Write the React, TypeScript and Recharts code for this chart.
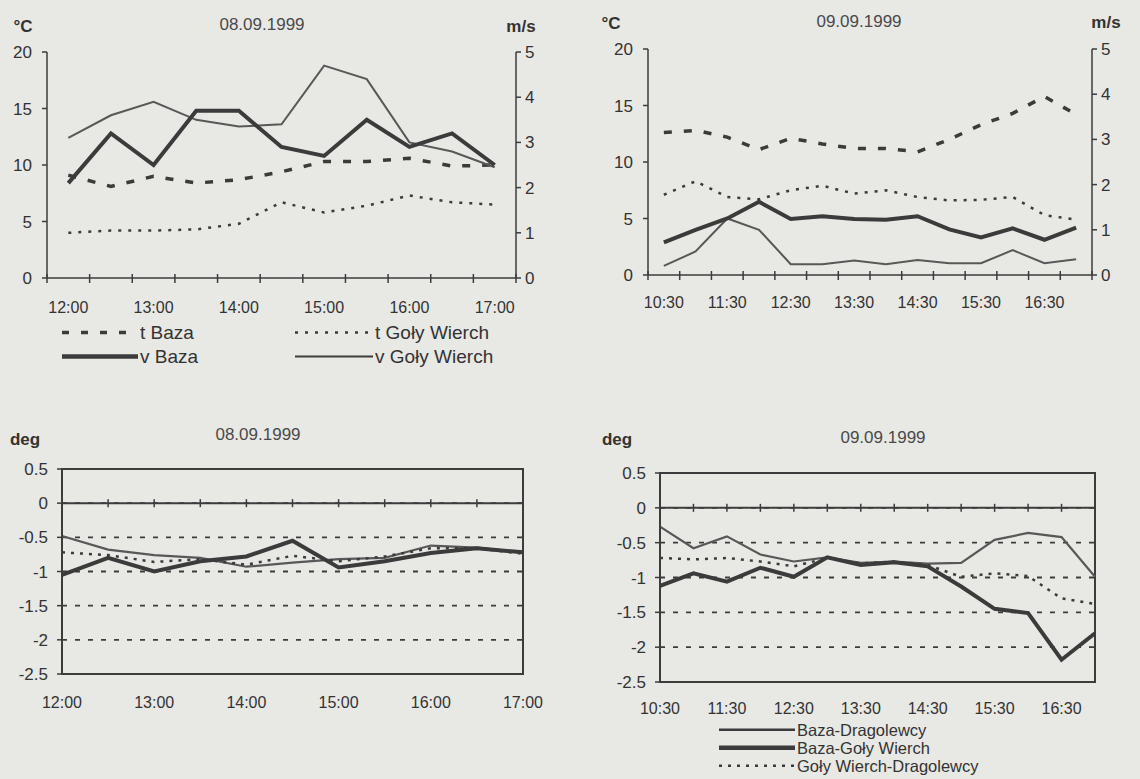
import React from 'react';
import { LineChart, Line, XAxis, YAxis, CartesianGrid, ReferenceLine, ReferenceArea } from 'recharts';

// time axes
const TIMES_0809 = ['12:00', '12:30', '13:00', '13:30', '14:00', '14:30', '15:00', '15:30', '16:00', '16:30', '17:00'];
const TIMES_0909 = ['10:30', '11:00', '11:30', '12:00', '12:30', '13:00', '13:30', '14:00', '14:30', '15:00', '15:30', '16:00', '16:30', '17:00'];

// temperature (°C) and wind (m/s), 08.09.1999
const T_BAZA_0809 = [9.1, 8.1, 9.0, 8.4, 8.7, 9.4, 10.3, 10.3, 10.6, 9.9, 10.0];
const T_GW_0809 = [4.0, 4.2, 4.2, 4.3, 4.8, 6.7, 5.8, 6.4, 7.3, 6.7, 6.5];
const V_BAZA_0809 = [2.1, 3.2, 2.5, 3.7, 3.7, 2.9, 2.7, 3.5, 2.9, 3.2, 2.5];
const V_GW_0809 = [3.1, 3.6, 3.9, 3.5, 3.35, 3.4, 4.7, 4.4, 3.0, 2.8, 2.45];

// temperature (°C) and wind (m/s), 09.09.1999
const T_BAZA_0909 = [12.6, 12.8, 12.2, 11.1, 12.1, 11.6, 11.2, 11.2, 10.9, 12.0, 13.3, 14.3, 15.8, 14.2];
const T_GW_0909 = [7.1, 8.3, 6.9, 6.7, 7.5, 7.9, 7.2, 7.5, 6.9, 6.6, 6.65, 6.9, 5.3, 4.9];
const V_BAZA_0909 = [0.72, 1.0, 1.25, 1.62, 1.24, 1.3, 1.24, 1.22, 1.3, 1.01, 0.83, 1.03, 0.78, 1.05];
const V_GW_0909 = [0.2, 0.52, 1.25, 1.0, 0.24, 0.24, 0.32, 0.24, 0.33, 0.26, 0.26, 0.55, 0.26, 0.35];

// gradients (deg), 08.09.1999
const BD_0809 = [-0.48, -0.68, -0.76, -0.8, -0.93, -0.87, -0.82, -0.8, -0.62, -0.65, -0.72];
const BG_0809 = [-1.05, -0.8, -1.0, -0.85, -0.78, -0.55, -0.94, -0.85, -0.73, -0.66, -0.72];
const GD_0809 = [-0.72, -0.76, -0.86, -0.82, -0.9, -0.77, -0.85, -0.78, -0.66, -0.66, -0.74];

// gradients (deg), 09.09.1999
const BD_0909 = [-0.27, -0.58, -0.41, -0.67, -0.77, -0.71, -0.79, -0.77, -0.8, -0.79, -0.46, -0.36, -0.42, -0.99];
const BG_0909 = [-1.12, -0.94, -1.06, -0.86, -0.99, -0.71, -0.82, -0.78, -0.84, -1.13, -1.45, -1.51, -2.18, -1.8];
const GD_0909 = [-0.72, -0.74, -0.72, -0.77, -0.84, -0.72, -0.8, -0.77, -0.82, -0.99, -0.94, -0.98, -1.3, -1.38];

const T_TICKS = [0, 5, 10, 15, 20];
const V_TICKS = [0, 1, 2, 3, 4, 5];
const DEG_TICKS = [0.5, 0, -0.5, -1, -1.5, -2, -2.5];

const FONT = '"Liberation Sans", Arial, sans-serif';
const BG = '#e8e8e5';
const INK = '#333333';
const AXIS = '#3c3c3c';
const THICK = '#3b3b3b';
const THIN = '#585858';

const weatherRows = (times: string[], tb: number[], tg: number[], vb: number[], vg: number[]) =>
  times.map((t, i) => ({ time: t, tBaza: tb[i], tGW: tg[i], vBaza: vb[i], vGW: vg[i] }));

const gradRows = (times: string[], bd: number[], bg: number[], gd: number[]) =>
  times.map((t, i) => ({ time: t, bd: bd[i], bg: bg[i], gd: gd[i] }));

const data0809 = weatherRows(TIMES_0809, T_BAZA_0809, T_GW_0809, V_BAZA_0809, V_GW_0809);
const data0909 = weatherRows(TIMES_0909, T_BAZA_0909, T_GW_0909, V_BAZA_0909, V_GW_0909);
const grad0809 = gradRows(TIMES_0809, BD_0809, BG_0809, GD_0809);
const grad0909 = gradRows(TIMES_0909, BD_0909, BG_0909, GD_0909);

// category ticks sit between categories, labels every hour
const bandTick = (step: number, count: number, dy: number) => (props: any) => {
  const { x, y, index, payload } = props;
  const h = step / 2;
  return (
    <g>
      <line x1={x - h} x2={x - h} y1={y - 4} y2={y + 5} stroke={AXIS} strokeWidth={1.5} />
      {index === count - 1 && <line x1={x + h} x2={x + h} y1={y - 4} y2={y + 5} stroke={AXIS} strokeWidth={1.5} />}
      {index % 2 === 0 && (
        <text x={x} y={y + dy} textAnchor="middle" dominantBaseline="central" fontSize={16} fill={INK} fontFamily={FONT}>
          {payload.value}
        </text>
      )}
    </g>
  );
};

// ticks drawn on the zero line, labels under the frame
const zeroTick = (zeroOffset: number, dy: number) => (props: any) => {
  const { x, y, index, payload } = props;
  const zy = y - zeroOffset;
  return (
    <g>
      <line x1={x} x2={x} y1={zy - 4} y2={zy + 4} stroke={AXIS} strokeWidth={1.5} />
      {index % 2 === 0 && (
        <text x={x} y={y + dy} textAnchor="middle" dominantBaseline="central" fontSize={16} fill={INK} fontFamily={FONT}>
          {payload.value}
        </text>
      )}
    </g>
  );
};

const yTick = { fontSize: 17, fill: INK, fontFamily: FONT };

const Label = ({ x, y, text, bold = false, size = 17, color = INK }: any) => (
  <div
    style={{
      position: 'absolute', left: x, top: y, transform: 'translate(-50%, -50%)',
      fontFamily: FONT, fontSize: size, fontWeight: bold ? 700 : 400, color, whiteSpace: 'nowrap',
    }}
  >
    {text}
  </div>
);

const LegendItem = ({ x, y, w, text, width, dash, size = 19 }: any) => (
  <div style={{ position: 'absolute', left: x, top: y, transform: 'translateY(-50%)', display: 'flex', alignItems: 'center', whiteSpace: 'nowrap' }}>
    <svg width={w} height={10}>
      <line x1={0} x2={w} y1={5} y2={5} stroke={THICK} strokeWidth={width} strokeDasharray={dash} />
    </svg>
    <span style={{ fontFamily: FONT, fontSize: size, color: INK, marginLeft: 2, lineHeight: 1 }}>{text}</span>
  </div>
);

const WeatherChart = ({ data, times, width, height, margin, leftW, rightW, step, dy }: any) => (
  <LineChart width={width} height={height} data={data} margin={margin}>
    <XAxis
      dataKey="time"
      interval={0}
      padding={{ left: step / 2, right: step / 2 }}
      height={40}
      tickSize={0}
      tickMargin={0}
      tickLine={false}
      axisLine={{ stroke: AXIS, strokeWidth: 1.5 }}
      tick={bandTick(step, times.length, dy)}
    />
    <YAxis yAxisId="t" domain={[0, 20]} ticks={T_TICKS} width={leftW} tickSize={5} tickMargin={10}
      axisLine={{ stroke: AXIS, strokeWidth: 1.5 }} tickLine={{ stroke: AXIS, strokeWidth: 1.5 }} tick={yTick} />
    <YAxis yAxisId="v" orientation="right" domain={[0, 5]} ticks={V_TICKS} width={rightW} tickSize={5} tickMargin={4}
      axisLine={{ stroke: AXIS, strokeWidth: 1.5 }} tickLine={{ stroke: AXIS, strokeWidth: 1.5 }} tick={yTick} />
    <Line yAxisId="t" dataKey="tBaza" stroke={THICK} strokeWidth={3.5} strokeDasharray="8 12" dot={false} isAnimationActive={false} />
    <Line yAxisId="t" dataKey="tGW" stroke={THICK} strokeWidth={2.5} strokeDasharray="3 7" dot={false} isAnimationActive={false} />
    <Line yAxisId="v" dataKey="vGW" stroke={THIN} strokeWidth={2} dot={false} isAnimationActive={false} />
    <Line yAxisId="v" dataKey="vBaza" stroke={THICK} strokeWidth={4} dot={false} isAnimationActive={false} />
  </LineChart>
);

const GradientChart = ({ data, times, width, height, margin, leftW, zeroOffset, dy }: any) => (
  <LineChart width={width} height={height} data={data} margin={margin}>
    <CartesianGrid vertical={false} stroke={AXIS} strokeWidth={1.8} strokeDasharray="5 8" />
    <XAxis
      dataKey="time"
      interval={0}
      height={40}
      tickSize={0}
      tickMargin={0}
      tickLine={false}
      axisLine={false}
      tick={zeroTick(zeroOffset, dy)}
    />
    <YAxis domain={[-2.5, 0.5]} ticks={DEG_TICKS} width={leftW} tickSize={5} tickMargin={9}
      axisLine={{ stroke: AXIS, strokeWidth: 2 }} tickLine={{ stroke: AXIS, strokeWidth: 1.5 }} tick={yTick} />
    <ReferenceArea x1={times[0]} x2={times[times.length - 1]} y1={-2.5} y2={0.5} fill="none" fillOpacity={0} stroke={AXIS} strokeWidth={2} />
    <ReferenceLine y={0} stroke={AXIS} strokeWidth={2} />
    <Line dataKey="bd" stroke={THIN} strokeWidth={2.2} dot={false} isAnimationActive={false} />
    <Line dataKey="gd" stroke={THICK} strokeWidth={2.5} strokeDasharray="3 6" dot={false} isAnimationActive={false} />
    <Line dataKey="bg" stroke={THICK} strokeWidth={4} dot={false} isAnimationActive={false} />
  </LineChart>
);

export default function App() {
  return (
    <div style={{ position: 'absolute', left: 0, top: 0, width: 1140, height: 779, background: BG, overflow: 'hidden' }}>
      {/* 08.09.1999 temperature / wind */}
      <div style={{ position: 'absolute', left: 0, top: 0 }}>
        <WeatherChart data={data0809} times={TIMES_0809} width={560} height={320}
          margin={{ top: 52, right: 4, bottom: 2, left: 0 }} leftW={47} rightW={40}
          step={(516 - 47) / 11} dy={29} />
      </div>
      <Label x={23} y={27} text="°C" bold />
      <Label x={262} y={25} text="08.09.1999" color="#4a4a4a" />
      <Label x={521} y={27} text="m/s" bold />
      <LegendItem x={62} y={332} w={76} text="t Baza" width={3.5} dash="7 12" />
      <LegendItem x={295} y={332} w={78} text="t Goły Wierch" width={2.5} dash="3 7" />
      <LegendItem x={62} y={356} w={76} text="v Baza" width={4.5} />
      <LegendItem x={295} y={356} w={78} text="v Goły Wierch" width={2} />

      {/* 09.09.1999 temperature / wind */}
      <div style={{ position: 'absolute', left: 570, top: 0 }}>
        <WeatherChart data={data0909} times={TIMES_0909} width={570} height={315}
          margin={{ top: 49, right: 8, bottom: 0, left: 0 }} leftW={78} rightW={40}
          step={(1092 - 648) / 14} dy={27} />
      </div>
      <Label x={611} y={24} text="°C" bold />
      <Label x={859} y={22} text="09.09.1999" color="#4a4a4a" />
      <Label x={1106} y={23} text="m/s" bold />

      {/* 08.09.1999 gradients */}
      <div style={{ position: 'absolute', left: 0, top: 400 }}>
        <GradientChart data={grad0809} times={TIMES_0809} width={560} height={314}
          margin={{ top: 69, right: 37, bottom: 0, left: 0 }} leftW={62}
          zeroOffset={(205 * 2.5) / 3} dy={28} />
      </div>
      <Label x={25} y={440} text="deg" bold />
      <Label x={258} y={435} text="08.09.1999" color="#4a4a4a" />

      {/* 09.09.1999 gradients */}
      <div style={{ position: 'absolute', left: 570, top: 400 }}>
        <GradientChart data={grad0909} times={TIMES_0909} width={570} height={322}
          margin={{ top: 73, right: 45, bottom: 0, left: 0 }} leftW={90}
          zeroOffset={(209 * 2.5) / 3} dy={26} />
      </div>
      <Label x={617} y={440} text="deg" bold />
      <Label x={883} y={438} text="09.09.1999" color="#4a4a4a" />
      <LegendItem x={719} y={730} w={76} text="Baza-Dragolewcy" width={2.5} size={16.5} />
      <LegendItem x={719} y={748} w={76} text="Baza-Goły Wierch" width={4.5} size={16.5} />
      <LegendItem x={719} y={766} w={76} text="Goły Wierch-Dragolewcy" width={2.5} dash="3 6" size={16.5} />
    </div>
  );
}
